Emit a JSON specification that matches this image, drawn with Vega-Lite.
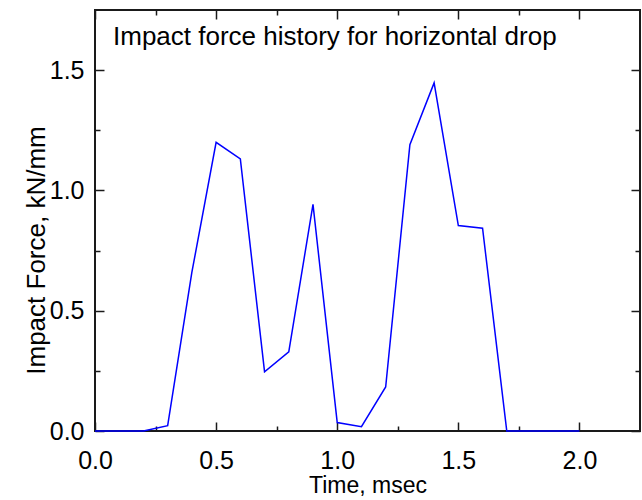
{
  "$schema": "https://vega.github.io/schema/vega-lite/v6.json",
  "width": 545,
  "height": 421,
  "autosize": "none",
  "padding": {"left": 95, "top": 10, "right": 2, "bottom": 69},
  "config": {
    "font": "Liberation Sans",
    "view": {"stroke": "#1a1a1a", "strokeWidth": 2},
    "axis": {
      "grid": false,
      "domain": false,
      "tickColor": "#1a1a1a",
      "tickWidth": 1.5,
      "labelColor": "black",
      "labelFontSize": 25,
      "labelFlush": false,
      "labelOverlap": false,
      "titleColor": "black",
      "titleFontSize": 23,
      "titleFontWeight": "normal"
    }
  },
  "title": {
    "text": "Impact force history for horizontal drop",
    "orient": "top",
    "anchor": "start",
    "frame": "group",
    "offset": -62,
    "dx": 18,
    "baseline": "alphabetic",
    "fontSize": 26,
    "fontWeight": "normal",
    "color": "black"
  },
  "data": {
    "values": [
      {"t": 0.0, "f": 0.0},
      {"t": 0.1, "f": 0.0},
      {"t": 0.2, "f": 0.0},
      {"t": 0.3, "f": 0.022},
      {"t": 0.4, "f": 0.66},
      {"t": 0.5, "f": 1.2},
      {"t": 0.6, "f": 1.131},
      {"t": 0.7, "f": 0.246},
      {"t": 0.8, "f": 0.329},
      {"t": 0.9, "f": 0.942},
      {"t": 1.0, "f": 0.035},
      {"t": 1.1, "f": 0.018},
      {"t": 1.2, "f": 0.183},
      {"t": 1.3, "f": 1.19},
      {"t": 1.4, "f": 1.447},
      {"t": 1.5, "f": 0.854},
      {"t": 1.6, "f": 0.843},
      {"t": 1.7, "f": 0.0},
      {"t": 1.8, "f": 0.0},
      {"t": 1.9, "f": 0.0},
      {"t": 2.0, "f": 0.0}
    ]
  },
  "layer": [
    {
      "mark": {"type": "line", "color": "#0000ff", "strokeWidth": 1.5},
      "encoding": {
        "x": {
          "field": "t",
          "type": "quantitative",
          "scale": {"domain": [0, 2.25], "nice": false},
          "axis": {
            "orient": "bottom",
            "title": "Time, msec",
            "titleFontSize": 23,
            "values": [0, 0.25, 0.5, 0.75, 1, 1.25, 1.5, 1.75, 2],
            "labelExpr": "datum.value % 0.5 === 0 ? format(datum.value, '.1f') : ''",
            "tickSize": {"condition": {"test": "datum.value % 0.5 === 0", "value": -9}, "value": -5},
            "labelPadding": 26,
            "titlePadding": -3
          }
        },
        "y": {
          "field": "f",
          "type": "quantitative",
          "scale": {"domain": [0, 1.75], "nice": false},
          "axis": {
            "orient": "left",
            "title": "Impact Force, kN/mm",
            "titleFontSize": 26,
            "titleY": 240,
            "values": [0, 0.25, 0.5, 0.75, 1, 1.25, 1.5],
            "labelExpr": "datum.value % 0.5 === 0 ? format(datum.value, '.1f') : ''",
            "tickSize": {"condition": {"test": "datum.value % 0.5 === 0", "value": -9}, "value": -5},
            "labelPadding": 20,
            "titlePadding": 0
          }
        }
      }
    },
    {
      "mark": {"type": "line", "opacity": 0},
      "encoding": {
        "x": {
          "field": "t",
          "type": "quantitative",
          "axis": {
            "orient": "top",
            "title": null,
            "labels": false,
            "values": [0, 0.25, 0.5, 0.75, 1, 1.25, 1.5, 1.75, 2],
            "tickSize": {"condition": {"test": "datum.value % 0.5 === 0", "value": -9}, "value": -5}
          }
        },
        "y": {
          "field": "f",
          "type": "quantitative",
          "axis": {
            "orient": "right",
            "title": null,
            "labels": false,
            "values": [0, 0.25, 0.5, 0.75, 1, 1.25, 1.5],
            "tickSize": {"condition": {"test": "datum.value % 0.5 === 0", "value": -9}, "value": -5}
          }
        }
      }
    }
  ]
}
